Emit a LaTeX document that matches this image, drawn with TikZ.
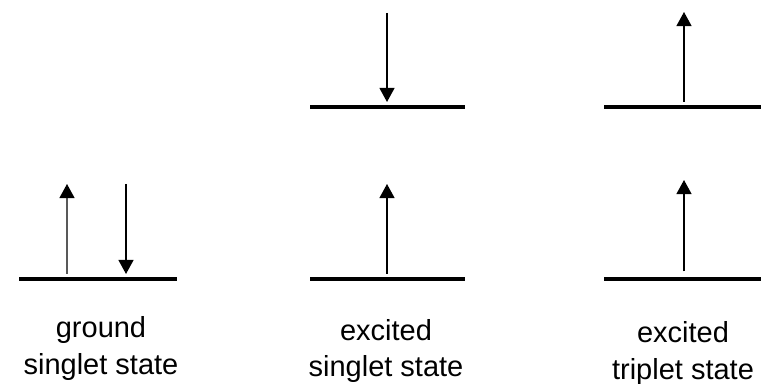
\documentclass[tikz,border=0pt]{standalone}
\usepackage{fontspec}
\setmainfont{Liberation Sans}
\usetikzlibrary{arrows.meta,positioning}

\begin{document}
\begin{tikzpicture}[
  level/.style={line width=2pt},
  spin/.style={line width=0.9pt, -{Triangle[length=8pt, width=8.5pt, color=black]}},
  caption/.style={font=\fontsize{16.5}{21}\selectfont, align=center}
]
\useasboundingbox (0,0) rectangle (15.38,7.68);

\coordinate (gl) at (0.38,2.1);   \coordinate (gr) at (3.54,2.1);
\coordinate (sl) at (6.2,2.1);    \coordinate (sr) at (9.3,2.1);
\coordinate (sul) at (6.2,5.54);  \coordinate (sur) at (9.3,5.54);
\coordinate (tl) at (12.08,2.1);  \coordinate (tr) at (15.22,2.1);
\coordinate (tul) at (12.08,5.54); \coordinate (tur) at (15.22,5.54);

\draw[level] (gl) -- (gr);
\draw[level] (sl) -- (sr);
\draw[level] (sul) -- (sur);
\draw[level] (tl) -- (tr);
\draw[level] (tul) -- (tur);

\coordinate (ga0) at (1.34,2.2);  \coordinate (ga1) at (1.34,4.0);
\coordinate (gb0) at (2.52,4.0);  \coordinate (gb1) at (2.52,2.2);
\coordinate (sa0) at (7.74,2.2);  \coordinate (sa1) at (7.74,4.0);
\coordinate (sb0) at (7.74,7.42); \coordinate (sb1) at (7.74,5.64);
\coordinate (ta0) at (13.68,2.25); \coordinate (ta1) at (13.68,4.08);
\coordinate (tb0) at (13.68,5.64); \coordinate (tb1) at (13.68,7.44);

\draw[spin, draw=black!65] (ga0) -- (ga1);
\draw[spin] (gb0) -- (gb1);
\draw[spin] (sa0) -- (sa1);
\draw[spin] (sb0) -- (sb1);
\draw[spin] (ta0) -- (ta1);
\draw[spin] (tb0) -- (tb1);

\node[caption] (ground) at (2.02,0.71) {ground\\singlet state};
\node[caption] (singlet) at (7.72,0.66) {excited\\singlet state};
\node[caption] (triplet) at (13.66,0.61) {excited\\triplet state};
\end{tikzpicture}
\end{document}
